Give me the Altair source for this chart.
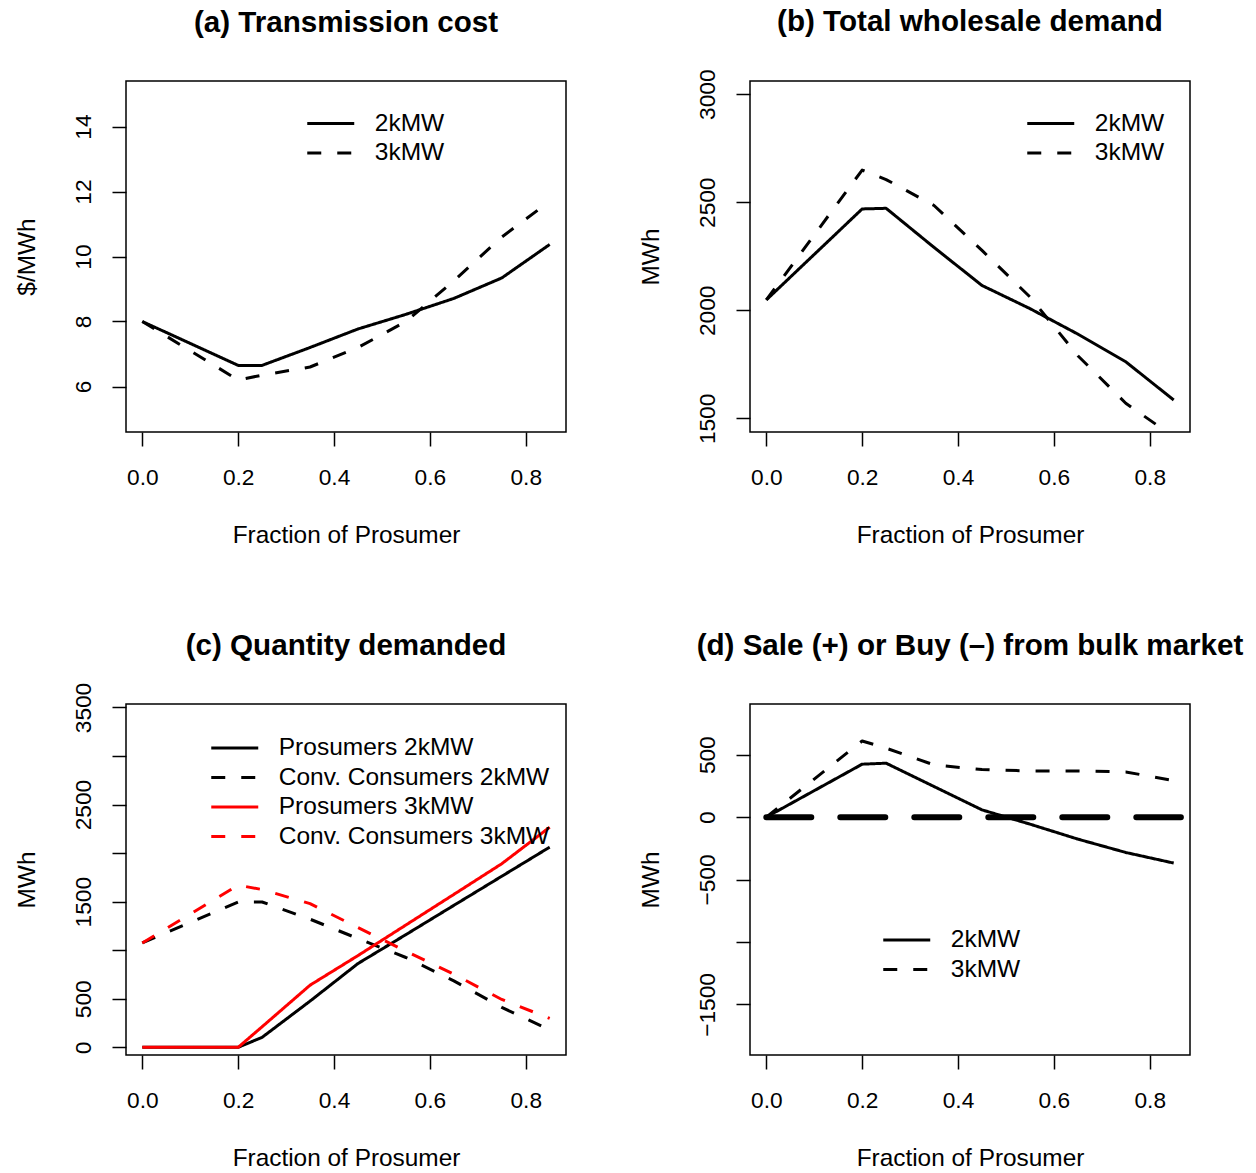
import altair as alt
import pandas as pd

FONT = "Liberation Sans"

# ---------------- data ----------------
frac = [0.0, 0.2, 0.25, 0.35, 0.45, 0.55, 0.65, 0.75, 0.85]
x_ticks = [0.0, 0.2, 0.4, 0.6, 0.8]

# (a) Transmission cost ($/MWh)
cost_2k = [8.0, 6.65, 6.65, 7.2, 7.77, 8.22, 8.71, 9.34, 10.37]
cost_3k = [8.0, 6.2, 6.35, 6.6, 7.2, 8.0, 9.25, 10.6, 11.7]
# (b) Total wholesale demand (MWh)
demand_2k = [2048, 2469, 2472, 2291, 2115, 2008, 1890, 1762, 1585]
demand_3k = [2048, 2649, 2605, 2485, 2277, 2062, 1790, 1570, 1415]
# (c) Quantity demanded (MWh)
pros_2k = [0, 0, 103, 476, 863, 1161, 1462, 1762, 2062]
conv_2k = [1075, 1497, 1497, 1320, 1120, 925, 685, 411, 180]
pros_3k = [0, 0, 212, 640, 945, 1260, 1575, 1891, 2267]
conv_3k = [1075, 1670, 1625, 1480, 1233, 990, 753, 493, 298]
# (d) Sale (+) or Buy (-) from bulk market (MWh)
bulk_2k = [0, 424, 432, 245, 58, -56, -176, -283, -368]
bulk_3k = [0, 610, 552, 418, 381, 370, 370, 362, 293]
zero_line_x = [0.0, 0.865]

titles = ["(a) Transmission cost", "(b) Total wholesale demand",
          "(c) Quantity demanded", "(d) Sale (+) or Buy (\u2013) from bulk market"]
x_title = "Fraction of Prosumer"

W, H = 440, 351
X_DOMAIN = [-0.034, 0.884]
SOLID = [1, 0]
DASH = [14, 16]


def make_panel(series, colors, dashes, title, y_title, y_domain, y_values,
               hidden, legend_pos, title_offset, zero=False):
    names = list(series.keys())
    rows = []
    for n, vals in series.items():
        for i, (f, v) in enumerate(zip(frac, vals)):
            rows.append({"frac": f, "value": v, "series": n, "idx": i})
    df = pd.DataFrame(rows)
    lx, ly = legend_pos
    leg = alt.Legend(orient="none", legendX=lx, legendY=ly, title=None,
                     direction="vertical", padding=0,
                     symbolType="M-2,0L2,0", symbolSize=552,
                     symbolStrokeWidth=3, symbolOffset=10.25,
                     labelOffset=30.5, rowPadding=4.5,
                     labelFont=FONT, labelFontSize=24.5, labelColor="black",
                     labelLimit=0, labelBaseline="middle")
    label_expr = "datum.label"
    if hidden:
        label_expr = "indexof(%s, datum.value) >= 0 ? '' : datum.label" % str(hidden)
    x = alt.X("frac:Q",
              scale=alt.Scale(domain=X_DOMAIN, nice=False, zero=False),
              axis=alt.Axis(values=x_ticks, format=".1f", title=x_title,
                            titleX=W / 2, titleY=110, titleBaseline="alphabetic",
                            titleAlign="center",
                            labelBaseline="alphabetic", labelPadding=38,
                            labelFlush=False, labelOverlap=False, grid=False,
                            domain=False, tickSize=14))
    y = alt.Y("value:Q",
              scale=alt.Scale(domain=y_domain, nice=False, zero=False),
              axis=alt.Axis(values=y_values, format="d", title=y_title,
                            labelAngle=270, labelAlign="center",
                            labelBaseline="alphabetic", labelPadding=22,
                            titleAngle=270, titleX=-92, titleY=H / 2,
                            titleBaseline="alphabetic", titleAlign="center",
                            labelExpr=label_expr, labelOverlap=False,
                            grid=False, domain=False, tickSize=14))
    lines = alt.Chart(df).mark_line(strokeWidth=3, clip=True, strokeJoin="round").encode(
        x=x, y=y,
        color=alt.Color("series:N", scale=alt.Scale(domain=names, range=colors), legend=leg),
        strokeDash=alt.StrokeDash("series:N", scale=alt.Scale(domain=names, range=dashes), legend=leg),
        order="idx:Q",
    )
    layers = [lines]
    if zero:
        zdf = pd.DataFrame({"frac": [zero_line_x[0]], "frac2": [zero_line_x[1]], "value": [0]})
        rule = alt.Chart(zdf).mark_rule(color="black", strokeWidth=6, strokeCap="round",
                                        strokeDash=[45, 29]).encode(
            x=x, x2="frac2:Q", y=y)
        layers.append(rule)
    ch = alt.layer(*layers).properties(
        width=W, height=H,
        title=alt.TitleParams(text=title, font=FONT, fontSize=29.6, fontWeight="bold",
                              color="black", anchor="middle", frame="group",
                              offset=title_offset, baseline="alphabetic"))
    return ch


pa = make_panel({"2kMW": cost_2k, "3kMW": cost_3k}, ["black", "black"], [SOLID, DASH],
                titles[0], "$/MWh", [4.6, 15.4], [6, 8, 10, 12, 14], None,
                (181, 29), 19)
pb = make_panel({"2kMW": demand_2k, "3kMW": demand_3k}, ["black", "black"], [SOLID, DASH],
                titles[1], "MWh", [1437, 3061], [1500, 2000, 2500, 3000], None,
                (277, 29), 8)
pc = make_panel({"Prosumers 2kMW": pros_2k, "Conv. Consumers 2kMW": conv_2k,
                 "Prosumers 3kMW": pros_3k, "Conv. Consumers 3kMW": conv_3k},
                ["black", "black", "#ff0000", "#ff0000"], [SOLID, DASH, SOLID, DASH],
                titles[2], "MWh", [-79, 3536], [0, 500, 1000, 1500, 2000, 2500, 3000, 3500],
                [1000, 2000, 3000], (85, 30.5), -2.5)
pd_ = make_panel({"2kMW": bulk_2k, "3kMW": bulk_3k}, ["black", "black"], [SOLID, DASH],
                 titles[3], "MWh", [-1905, 906], [-1500, -1000, -500, 0, 500],
                 [-1000], (133, 222.5), 19, zero=True)

res = dict(x="independent", y="independent", color="independent", strokeDash="independent")
row1 = alt.hconcat(pa, pb, spacing=70).resolve_scale(**res).resolve_legend(color="independent", strokeDash="independent")
row2 = alt.hconcat(pc, pd_, spacing=70).resolve_scale(**res).resolve_legend(color="independent", strokeDash="independent")

chart = alt.vconcat(row1, row2, spacing=82).resolve_scale(**res).resolve_legend(
    color="independent", strokeDash="independent").properties(
    padding={"left": 5, "top": -2, "right": 0, "bottom": 0},
    background="white",
).configure_view(
    stroke="black", strokeWidth=1.5, fill="white"
).configure_axis(
    labelFont=FONT, titleFont=FONT, labelFontSize=22.7, titleFontSize=24.4,
    labelColor="black", titleColor="black", tickColor="black", tickWidth=1.5,
    titleFontWeight="normal",
)

chart.save("out.html", embed_options={"renderer": "svg", "actions": False})
